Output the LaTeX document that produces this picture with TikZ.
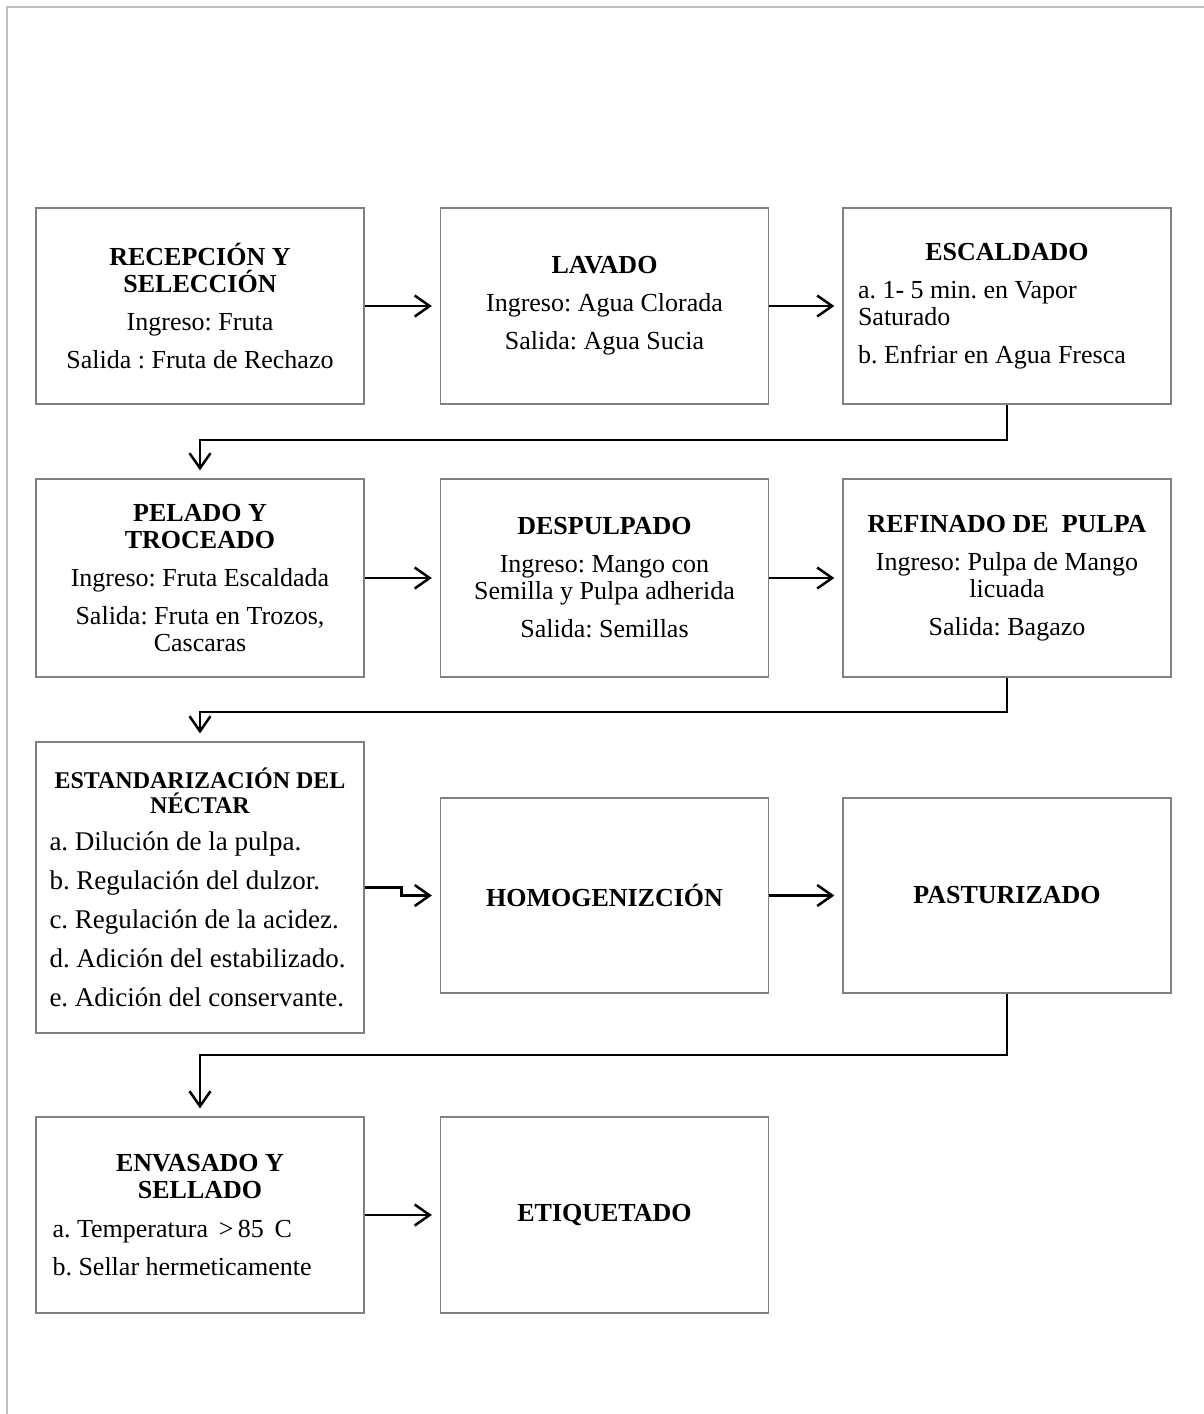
\documentclass[tikz,border=0pt]{standalone}
\usepackage{fontspec}
\setmainfont{Liberation Serif}
\usetikzlibrary{arrows.meta}
\definecolor{boxgray}{RGB}{128,128,128}
\definecolor{framegray}{RGB}{192,192,192}
\frenchspacing
\begin{document}
\begin{tikzpicture}[x=1pt,y=-1pt,
  procbox/.style={draw=boxgray, line width=1.3pt, minimum width=328pt,
    minimum height=196pt, inner sep=0pt, align=center,
    font=\fontsize{26}{27}\selectfont},
  flow/.style={line width=2.5pt,
    -{Straight Barb[length=15pt,width=21pt,line width=2.5pt]}},
  link/.style={line width=2.8pt,
    -{Straight Barb[length=15pt,width=21pt,line width=2.5pt]}}]
\useasboundingbox (0,0) rectangle (1204,1414);
% page frame
\draw[framegray, line width=2.5pt] (7,1414) -- (7,7) -- (1204,7);

% row 1
\node[procbox] (b1) at (200,306) {\textbf{RECEPCIÓN Y}\\\textbf{SELECCIÓN}\\[11pt]Ingreso: Fruta\\[11pt]Salida : Fruta de Rechazo};
\node[procbox] (b2) at (604.5,306) {\textbf{LAVADO}\\[11pt]Ingreso: Agua Clorada\\[11pt]Salida: Agua Sucia};
\node[procbox] (b3) at (1007,306) {\textbf{ESCALDADO}\\[11pt]\makebox[298pt][l]{a. 1- 5 min. en Vapor}\\\makebox[298pt][l]{Saturado}\\[11pt]\makebox[298pt][l]{b. Enfriar en Agua Fresca}};

% row 2
\node[procbox, minimum height=198pt] (b4) at (200,578) {\textbf{PELADO Y}\\\textbf{TROCEADO}\\[11pt]Ingreso: Fruta Escaldada\\[11pt]Salida: Fruta en Trozos,\\Cascaras};
\node[procbox, minimum height=198pt] (b5) at (604.5,578) {\textbf{DESPULPADO}\\[11pt]Ingreso: Mango con\\Semilla y Pulpa adherida\\[11pt]Salida: Semillas};
\node[procbox, minimum height=198pt] (b6) at (1007,578) {\textbf{REFINADO DE\ \ PULPA}\\[11pt]Ingreso: Pulpa de Mango\\licuada\\[11pt]Salida: Bagazo};

% row 3
\node[procbox, minimum height=291pt] (b7) at (200,887.5) {{\fontsize{24}{24}\selectfont\bfseries ESTANDARIZACIÓN DEL}\\[-2pt]{\fontsize{24}{24}\selectfont\bfseries NÉCTAR}\\[10pt]%
\makebox[301pt][l]{\fontsize{27}{27}\selectfont a. Dilución de la pulpa.}\\[12pt]%
\makebox[301pt][l]{\fontsize{27}{27}\selectfont b. Regulación del dulzor.}\\[12pt]%
\makebox[301pt][l]{\fontsize{27}{27}\selectfont c. Regulación de la acidez.}\\[12pt]%
\makebox[301pt][l]{\fontsize{27}{27}\selectfont d. Adición del estabilizado.}\\[12pt]%
\makebox[301pt][l]{\fontsize{27}{27}\selectfont e. Adición del conservante.}};
\node[procbox, minimum height=195pt] (b8) at (604.5,895.5) {\textbf{HOMOGENIZCIÓN}};
\node[procbox, minimum height=195pt] (b9) at (1007,895.5) {\textbf{PASTURIZADO}};

% row 4
\node[procbox] (b10) at (200,1215) {\textbf{ENVASADO Y}\\\textbf{SELLADO}\\[12pt]\makebox[295pt][l]{a. Temperatura \,>\,85\, C}\\[11pt]\makebox[295pt][l]{b. Sellar hermeticamente}};
\node[procbox] (b11) at (604.5,1215) {\textbf{ETIQUETADO}};

% connectors
\draw[flow, shorten >=8pt] (b1.east) -- (b2.west);
\draw[flow, shorten >=8pt] (b2.east) -- (b3.west);
\draw[flow, shorten >=8pt] (b4.east) -- (b5.west);
\draw[flow, shorten >=8pt] (b5.east) -- (b6.west);
\draw[flow, shorten >=8pt] (b7.east) -- ++(37,0) |- (b8.west);
\draw[flow, shorten >=8pt] (b8.east) -- (b9.west);
\draw[flow, shorten >=8pt] (b10.east) -- (b11.west);

\draw[link, shorten >=8pt] (b3.south) -- (1007,440) -| (b4.north);
\draw[link, shorten >=8pt] (b6.south) -- (1007,712) -| (b7.north);
\draw[link, shorten >=8pt] (b9.south) -- (1007,1055) -| (b10.north);
\end{tikzpicture}
\end{document}
